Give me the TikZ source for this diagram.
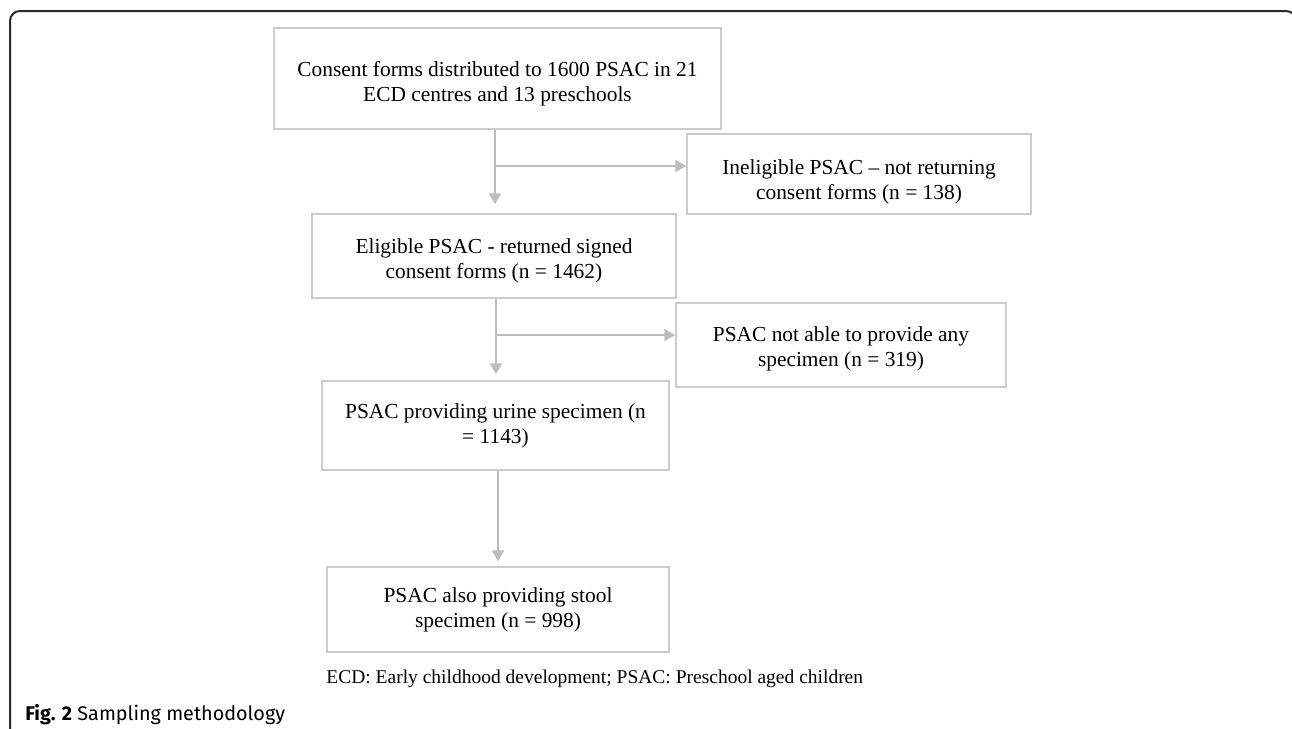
\documentclass[tikz,border=0pt]{standalone}
\usepackage{fontspec}
\setmainfont{Liberation Serif}
\newfontfamily\capfont{Fira Sans}
\usetikzlibrary{arrows.meta,calc}
\definecolor{boxgray}{HTML}{CCCCCC}
\definecolor{arrgray}{HTML}{BDBDBD}
\definecolor{framecol}{HTML}{2A2A2A}
\begin{document}
\begin{tikzpicture}[x=0.5pt,y=-0.5pt,
  box/.style={draw=boxgray, line width=0.75pt, inner sep=0pt, align=center,
    font=\fontsize{10.7}{12.4}\selectfont},
  arr/.style={draw=arrgray, line width=1pt, -{Triangle[length=5.5pt,width=6pt]}},
  note/.style={anchor=west, inner sep=0pt, font=\fontsize{9.75}{12}\selectfont},
  figcap/.style={anchor=west, inner sep=0pt, font=\capfont\fontsize{9.9}{12}\selectfont}]
\useasboundingbox (0,0) rectangle (1292,729);
\clip (0,0) rectangle (1292,729);
\fill[white] (0,0) rectangle (1292,729);
% frame
\draw[framecol, line width=1pt, rounded corners=5pt] (10,745) -- (10,11) -- (1296,11) -- (1296,745);
% boxes
\node[box, minimum width=223.5pt, minimum height=50.5pt] (b1) at (497.5,78.5)
  {\rule{0pt}{12.5pt}Consent forms distributed to 1600 PSAC in 21\\ECD centres and 13 preschools};
\node[box, minimum width=172pt, minimum height=40pt] (b2) at (859,174)
  {\rule{0pt}{15pt}Ineligible PSAC -- not returning\\consent forms (n = 138)};
\node[box, minimum width=182pt, minimum height=42pt] (b3) at (494,256)
  {\rule{0pt}{12.5pt}Eligible PSAC - returned signed\\consent forms (n = 1462)};
\node[box, minimum width=165pt, minimum height=42pt] (b4) at (841,345)
  {\rule{0pt}{11.5pt}PSAC not able to provide any\\specimen (n = 319)};
\node[box, minimum width=173.5pt, minimum height=44.5pt] (b5) at (495.5,425.5)
  {PSAC providing urine specimen (n\\= 1143)};
\node[box, minimum width=171pt, minimum height=42.5pt] (b6) at (498,609.5)
  {PSAC also providing stool\\specimen (n = 998)};
% connectors
\coordinate (ax1) at (495,0);
\coordinate (ax2) at (496,0);
\coordinate (ax3) at (498,0);
\coordinate (j1) at (495,166);
\coordinate (j2) at (496,335);
\draw[arr] (b1.south -| ax1) -- ($(b3.north -| ax1)+(0,-9)$);
\draw[arr] (j1) -- (j1 -| b2.west);
\draw[arr] (b3.south -| ax2) -- ($(b5.north -| ax2)+(0,-6)$);
\draw[arr] (j2) -- (j2 -| b4.west);
\draw[arr] (b5.south -| ax3) -- ($(b6.north -| ax3)+(0,-5)$);
% texts
\node[note] (legend) at (326,679) {ECD: Early childhood development; PSAC: Preschool aged children};
\node[figcap] (caption) at (25,715) {\textbf{Fig. 2} Sampling methodology};
\end{tikzpicture}
\end{document}
